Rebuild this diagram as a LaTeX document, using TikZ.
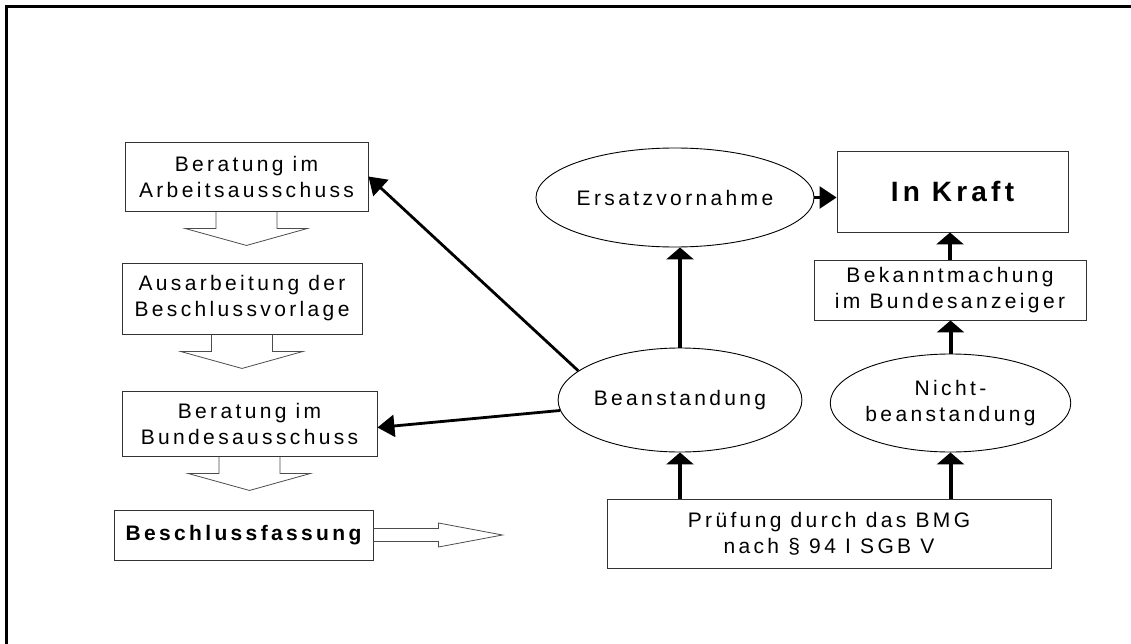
\documentclass[tikz,border=0pt]{standalone}
\usepackage{fontspec}
\setmainfont{Liberation Sans}
\newfontfamily\spfont[LetterSpace=16]{Liberation Sans}
\usetikzlibrary{arrows.meta,shapes.geometric,calc}
\newcommand\bdarrow[1]{%
  \draw[blk] ($(#1.south)+(-30.5,0)$) -- ++(0,17) -- ++(-31,0) -- ($(#1.south)+(0,34)$)
    -- ($(#1.south)+(61,17)$) -- ++(-30.5,0) -- ++(0,-17);}
\begin{document}
\begin{tikzpicture}[x=1pt,y=-1pt,
  txt/.style={font=\spfont\fontsize{21}{26}\selectfont},
  box/.style={txt,draw=black!80,line width=0.9pt,inner sep=0pt,align=center},
  ell/.style={txt,ellipse,draw,line width=0.9pt,inner sep=0pt,align=center},
  blk/.style={draw=black!70,line width=0.8pt},
  uparr/.style={line width=4pt,-{Triangle[length=12pt,width=27pt]}},
  thinarr/.style={line width=2.8pt,-{Triangle[length=17pt,width=22pt]}}]
\useasboundingbox (0,0) rectangle (1131,644);
% frame
\draw[line width=3pt] (6.5,644) -- (6.5,6.5) -- (1131,6.5);
% left column
\node[box,minimum width=243pt,minimum height=69pt] (b1) at (246.5,176.5) {Beratung im\\Arbeitsausschuss};
\node[box,minimum width=240pt,minimum height=71pt] (b2) at (242,298.5) {Ausarbeitung der\\Beschlussvorlage};
\node[box,minimum width=255pt,minimum height=65pt] (b3) at (249.5,423.5) {Beratung im\\Bundesausschuss};
\node[box,minimum width=259pt,minimum height=50pt,font=\spfont\bfseries\fontsize{21}{26}\selectfont] (b4) at (243.5,535) {Beschlussfassung};
\bdarrow{b1}
\bdarrow{b2}
\bdarrow{b3}
\draw[blk] ($(b4.east)+(0,-6.5)$) -- ++(65,0) -- ++(0,-5.5) -- ($(b4.east)+(129,0)$)
  -- ($(b4.east)+(65,12)$) -- ++(0,-5.5) -- ++(-65,0);
% right part
\node[ell,minimum width=226pt,minimum height=99pt] (ersatz) at (675,197.5) {Ersatzvornahme};
\node[box,minimum width=231pt,minimum height=81pt,font=\spfont\bfseries\fontsize{28}{32}\selectfont\addfontfeature{LetterSpace=15}] (kraft) at (952.5,191.5) {In Kraft};
\node[box,minimum width=272pt,minimum height=60pt] (bek) at (950,290) {Bekanntmachung\\im Bundesanzeiger};
\node[ell,minimum width=236pt,minimum height=104pt] (bean) at (680,400) {Beanstandung};
\node[ell,minimum width=235pt,minimum height=98pt] (nicht) at (950.5,403) {Nicht-\\beanstandung};
\node[box,minimum width=444pt,minimum height=69pt] (pruef) at (829,533.5) {Prüfung durch das BMG\\nach § 94 I SGB V};
% connectors
\draw[uparr] (pruef.north -| bean.south) -- (bean.south);
\draw[uparr] (pruef.north -| nicht.south) -- (nicht.south);
\draw[uparr] (bean.north) -- (bean.north |- ersatz.south);
\draw[uparr] (nicht.north) -- (nicht.north |- bek.south);
\draw[uparr] (bek.north) -- (bek.north |- kraft.south);
\draw[thinarr] (ersatz.east) -- (ersatz.east -| kraft.west);
\draw[thinarr] (bean.164) -- (b1.east);
\draw[thinarr] (bean.185) -- ([yshift=-4pt]b3.east);
\end{tikzpicture}
\end{document}
